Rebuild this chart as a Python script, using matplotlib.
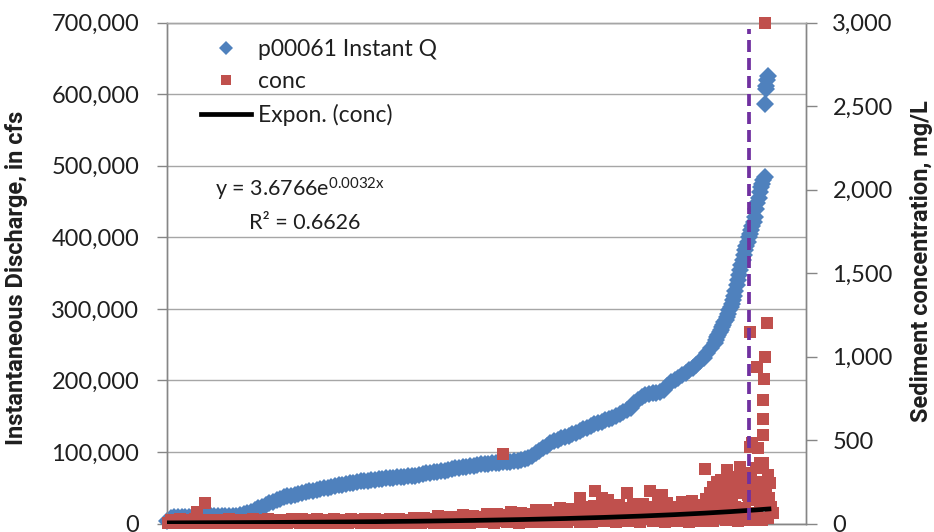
import matplotlib
matplotlib.use("Agg")
import matplotlib.pyplot as plt
import numpy as np
from matplotlib.lines import Line2D
from matplotlib.ticker import FuncFormatter, MultipleLocator

plt.rcParams['font.family'] = ['Lato', 'DejaVu Sans']
plt.rcParams['mathtext.fontset'] = 'custom'
plt.rcParams['mathtext.rm'] = 'Lato'
plt.rcParams['mathtext.it'] = 'Lato:italic'

# ---------------- data ----------------
# Instantaneous discharge (thousand cfs), samples ranked by discharge
q_rank = list(range(0, 900, 6)) + list(range(900, 983, 2)) + [983, 984, 985, 986, 987]
q_kcfs = [
    4, 8, 9, 9, 9.5, 9.5, 9.5, 9.8, 9.8, 10,
    10, 10, 10, 10, 10, 10, 10, 10, 10.5, 11,
    12, 13, 14.5, 16, 18.5, 21, 23.5, 26, 28, 30,
    32.5, 34.5, 36.5, 38, 39, 40.5, 41.5, 43, 44, 45,
    46, 47, 48, 49, 50, 51.5, 52.5, 53.5, 54.5, 55,
    56, 57, 58, 59, 59.5, 60, 61, 61.5, 62, 62.5,
    63, 63.5, 64, 64.5, 65, 65.5, 66, 66.5, 67, 68,
    69, 70, 71, 72, 72.5, 73.5, 74, 75, 76, 77,
    78, 79, 79.5, 80, 81, 82, 82.5, 83, 83.5, 84,
    84.5, 85, 85.5, 86, 86.5, 87, 88, 89, 90, 91,
    94, 98, 102, 106, 109, 112, 115, 117, 119, 121,
    123, 125, 127, 129.5, 132, 134, 136, 138.5, 140.5, 142.5,
    144.5, 146.5, 148, 150.5, 153, 156, 159, 162, 168, 173,
    177, 179, 180.5, 182, 183, 184.5, 186.5, 192, 197.5, 201,
    204, 207, 210, 214, 218, 222, 227, 232, 238, 245,
    252, 256, 260, 263, 267, 270, 274, 278, 282, 285,
    288, 293, 298, 302, 307, 312, 318, 325, 333, 340,
    347, 354, 361, 368, 375, 382, 388, 394, 400, 405,
    410, 416, 422, 428, 440, 448, 455, 463, 470, 475,
    480, 484,
    587, 607, 611, 620, 625,
]

# Sediment concentration (mg/L) for samples along the rank axis
c_rank = list(range(2, 983, 4))
c_mgl = [
    3, 22, 8, 15, 1, 25, 5, 12, 18, 2,
    6, 24, 10, 16, 2, 23, 4, 14, 20, 3,
    2, 21, 7, 17, 1, 25, 6, 11, 19, 4,
    5, 23, 9, 14, 2, 24, 3, 13, 22, 1,
    4, 25, 8, 16, 2, 21, 6, 12, 20, 3,
    7, 24, 10, 15, 1, 26, 5, 13, 18, 2,
    3, 25, 9, 17, 2, 22, 6, 14, 24, 4,
    5, 23, 8, 16, 1, 27, 7, 12, 21, 3,
    6, 26, 11, 18, 2, 24, 5, 15, 22, 4,
    4, 27, 9, 16, 3, 25, 7, 14, 23, 2,
    6, 30, 12, 20, 3, 34, 8, 17, 28, 4,
    7, 44, 14, 25, 3, 40, 9, 22, 36, 5,
    8, 48, 15, 28, 4, 45, 10, 24, 40, 6,
    9, 55, 18, 32, 4, 58, 12, 28, 48, 6,
    10, 66, 20, 38, 5, 62, 14, 34, 58, 8,
    12, 82, 25, 45, 6, 78, 16, 40, 70, 9,
    14, 92, 28, 52, 7, 88, 18, 46, 80, 10,
    15, 100, 30, 56, 8, 104, 20, 50, 86, 12,
    16, 108, 32, 60, 8, 112, 22, 54, 92, 13,
    18, 114, 35, 64, 9, 118, 24, 58, 96, 14,
    19, 120, 38, 68, 10, 124, 26, 62, 100, 15,
    20, 128, 40, 72, 10, 134, 28, 66, 108, 16,
    22, 145, 45, 80, 12, 160, 30, 75, 125, 18,
    25, 190, 55, 100, 14, 230, 35, 90, 170, 20,
    30, 210, 60, 120, 18, 250,
]
# additional (higher) concentration samples
c_extra_rank = [49, 62, 552, 679, 703, 715, 725, 756, 794, 813,
                884, 892, 898, 902, 904, 906, 910, 914, 918, 920, 920, 924, 928, 932,
                936, 938, 941, 941, 944, 948, 952, 956, 958, 958, 960, 961, 964, 968,
                970, 971, 972, 974, 976, 979, 979, 980, 980, 981, 982, 983, 984, 986,
                987, 987, 988, 990, 991, 992, 994, 996]
c_extra_mgl = [66, 124, 417, 154, 192, 154, 142, 184, 192, 172,
               328, 180, 220, 150, 251, 200, 260, 120, 190, 321, 311, 240, 160, 280,
               262, 210, 333, 341, 180, 300, 240, 140, 1150, 461, 280, 483, 220, 330,
               940, 453, 170, 363, 250, 531, 741, 627, 360, 866, 1000, 3000, 200, 1202,
               142, 34, 290, 150, 244, 100, 60, 64]

# Exponential trendline (conc) y = a * exp(b x)
trend_a = 3.6766
trend_b = 0.0032
trend_x_end = 993
threshold_rank = 956

legend_labels = ['p00061 Instant Q', 'conc', 'Expon. (conc)']

# ---------------- plot ----------------
BLUE = '#4F81BD'
RED = '#C0504D'
PURPLE = '#7030A0'
GRID = '#A6A6A6'
AXC = '#868686'
TXT = '#1f1f1f'
Q_MS = 9.3
C_MS = 8.6

fig = plt.figure(figsize=(9.34, 5.32), dpi=100)
ax = fig.add_axes([167 / 934, (532 - 523.5) / 532, 639 / 934, 500.8 / 532])
ax2 = ax.twinx()

q_vals = np.array(q_kcfs) * 1000.0
ax.plot(q_rank, q_vals, linestyle='none', marker='D', markersize=Q_MS,
        color=BLUE, markeredgewidth=0, clip_on=False, zorder=3)

ax2.plot(c_rank, c_mgl, linestyle='none', marker='s', markersize=C_MS,
         color=RED, markeredgewidth=0, clip_on=False, zorder=3)
ax2.plot(c_extra_rank, c_extra_mgl, linestyle='none', marker='s', markersize=C_MS,
         color=RED, markeredgewidth=0, clip_on=False, zorder=3)

tx = np.linspace(0, trend_x_end, 200)
ax2.plot(tx, trend_a * np.exp(trend_b * tx), color='black', linewidth=3.4, zorder=4,
         solid_capstyle='butt')

ax2.axvline(threshold_rank, ymin=0.007, ymax=0.987, color=PURPLE, linewidth=2.7,
            dashes=(3.2, 1.6), zorder=5)

ax.set_xlim(0, 1050)
ax.set_ylim(0, 700000)
ax2.set_ylim(0, 3000)

ax.yaxis.set_major_locator(MultipleLocator(100000))
ax2.yaxis.set_major_locator(MultipleLocator(500))
fmt = FuncFormatter(lambda v, p: f'{v:,.0f}')
ax.yaxis.set_major_formatter(fmt)
ax2.yaxis.set_major_formatter(fmt)

ax.grid(axis='y', color=GRID, linewidth=1.0)
ax.set_axisbelow(True)
ax.set_xticks([])
ax2.set_xticks([])

for a in (ax, ax2):
    for s in a.spines.values():
        s.set_color(AXC)
        s.set_linewidth(1.0)
    a.spines['top'].set_color(GRID)

ax.tick_params(axis='y', direction='out', length=7, width=1, color=AXC,
               labelsize=17, labelcolor=TXT, pad=13)
ax2.tick_params(axis='y', direction='out', length=8, width=1, color=AXC,
                labelsize=17, labelcolor=TXT, pad=11)

LABEL_FONT = dict(family=['Roboto', 'DejaVu Sans'], fontsize=17, fontweight='bold', color=TXT)
ax.set_ylabel('Instantaneous Discharge, in cfs', **LABEL_FONT)
ax.yaxis.set_label_coords(-0.218, 0.49)
ax2.set_ylabel('Sediment concentration, mg/L', **LABEL_FONT)
ax2.yaxis.set_label_coords(1.163, 0.524)

handles = [
    Line2D([], [], linestyle='none', marker='D', markersize=Q_MS * 0.75, color=BLUE, markeredgewidth=0),
    Line2D([], [], linestyle='none', marker='s', markersize=C_MS * 0.8, color=RED, markeredgewidth=0),
    Line2D([], [], color='black', linewidth=3.4),
]
leg = ax2.legend(handles, legend_labels, loc='upper left', bbox_to_anchor=(0.053, 0.968),
                 frameon=False, fontsize=16.5, borderaxespad=0, borderpad=0,
                 handlelength=2.2, handletextpad=0.3, labelspacing=0.5)
for t in leg.get_texts():
    t.set_color(TXT)

ax2.text(0.208, 0.667, r'y = 3.6766e$^{\mathregular{0.0032x}}$', transform=ax2.transAxes,
         ha='center', va='center', fontsize=15.5, color=TXT)
ax2.text(0.216, 0.601, 'R² = 0.6626', transform=ax2.transAxes,
         ha='center', va='center', fontsize=15.5, color=TXT)

fig.savefig('out.png', dpi=100)
